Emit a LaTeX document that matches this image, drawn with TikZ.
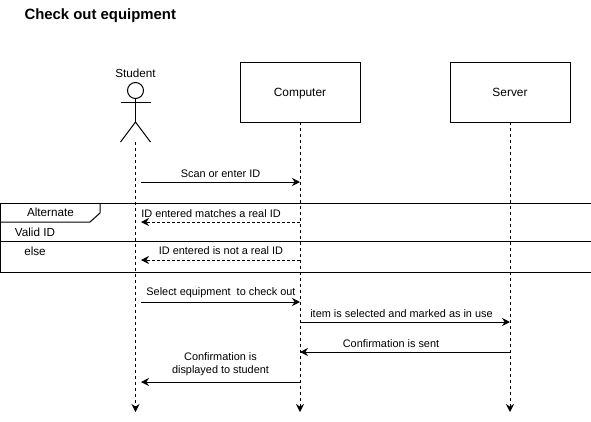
\documentclass[tikz,border=0pt]{standalone}
\usepackage{fontspec}
\setmainfont{Liberation Sans}
\usetikzlibrary{arrows.meta}
\tikzset{
    lane/.style = {draw, minimum width = 120pt, minimum height = 60pt, text height = 8pt, text depth = 0pt, font = \fontsize{11.9}{14}\selectfont},
    lifeline/.style = {dash pattern = on 3pt off 3pt, -{Stealth[length = 8pt, width = 8pt]}},
    msg/.style = {-{Stealth[length = 8pt, width = 8pt]}},
    reply/.style = {msg, dash pattern = on 3pt off 2pt},
    lbl/.style = {font = \fontsize{10.9}{13}\selectfont, inner sep = 0pt, align = center},
    tag/.style = {font = \fontsize{11.7}{14}\selectfont, inner sep = 0pt}
}
\begin{document}
\begin{tikzpicture}[x = 1pt, y = -1pt, line width = 1pt]
\useasboundingbox (0, 0) rectangle (591, 421);
\node[font = \fontsize{14.9}{17}\selectfont\bfseries, inner sep = 0pt, anchor = west] (title) at (24, 15.5) {Check out equipment};
% actor
\node[tag] (student) at (135.5, 73) {Student};
\node[draw, circle, minimum size = 16pt, inner sep = 0pt] (head) at (135.5, 90.5) {};
\coordinate (hip) at (135.5, 122);
\coordinate (armL) at (120.5, 102);
\coordinate (armR) at (150.5, 102);
\coordinate (legL) at (120.5, 142);
\coordinate (legR) at (150.5, 142);
\draw (head) -- (hip);
\draw (armL) -- (armR);
\draw (legL) -- (hip) -- (legR);
% boxes
\node[lane] (computer) at (300, 92) {Computer};
\node[lane] (server) at (510, 92) {Server};
% lifelines
\coordinate (studentEnd) at (135.5, 412);
\coordinate (computerEnd) at (300, 412);
\coordinate (serverEnd) at (510, 412);
\draw[lifeline] (legL -| hip) -- (studentEnd);
\draw[lifeline] (computer) ++(0, 30) -- (computerEnd);
\draw[lifeline] (server) ++(0, 30) -- (serverEnd);
% message ends
\foreach \i in {182, 222, 260, 302, 382}
    {\coordinate (s\i) at (141, \i); \coordinate (c\i) at (300, \i);};
\foreach \i in {322, 352}
    {\coordinate (c\i) at (300, \i); \coordinate (r\i) at (510, \i);};
\draw[msg] (s182) -- (c182);
\draw[reply] (c222) -- (s222);
\draw[reply] (c260) -- (s260);
\draw[msg] (s302) -- (c302);
\draw[msg] (c322) -- (r322);
\draw[msg] (r352) -- (c352);
\draw[msg] (c382) -- (s382);
% labels
\node[lbl] (scan) at (220.5, 173.5) {Scan or enter ID};
\node[lbl] (match) at (211, 213.5) {ID entered matches a real ID};
\node[lbl] (nomatch) at (221, 251) {ID entered is not a real ID};
\node[lbl] (select) at (221, 292.5) {Select equipment\ \ to check out};
\node[lbl] (item) at (401.5, 313.5) {item is selected and marked as in use};
\node[lbl] (sent) at (391, 343.5) {Confirmation is sent};
\node[lbl] (shown) at (220.5, 364) {Confirmation is\\displayed to student};
% alternate frame
\coordinate (frameTL) at (0.5, 203);
\coordinate (frameBR) at (591, 272);
\coordinate (midL) at (0.5, 241);
\coordinate (midR) at (591, 241);
\draw (frameTL) rectangle (frameBR);
\draw (midL) -- (midR);
\draw (frameTL |- 0, 222) -- (90, 222) -- (100, 213) -- (100, 203);
\node[tag] (alternate) at (50.5, 212.5) {Alternate};
\node[tag] (valid) at (35, 232) {Valid ID};
\node[tag] (other) at (35, 251) {else};
\end{tikzpicture}
\end{document}
